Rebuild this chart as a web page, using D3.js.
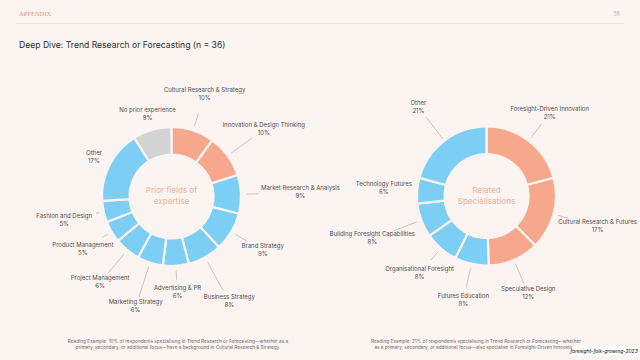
<!DOCTYPE html>
<html>
<head>
<meta charset="utf-8">
<script src="https://cdn.jsdelivr.net/npm/d3@7"></script>
<style>
  html, body { margin: 0; padding: 0; background: #fcf4f1; }
  svg { display: block; }
  text { font-family: Inter, "Noto Sans", sans-serif; }
</style>
</head>
<body>
<svg id="chart" width="640" height="360"></svg>
<script>
// ---------- DATA ----------
const priorCategories = [
  "Cultural Research & Strategy", "Innovation & Design Thinking", "Market Research & Analysis",
  "Brand Strategy", "Business Strategy", "Advertising & PR", "Marketing Strategy",
  "Project Management", "Product Management", "Fashion and Design", "Other", "No prior experience"
];
const priorValues = [10, 10, 9, 9, 8, 6, 6, 6, 5, 5, 17, 9];
const priorGroups = ["focus", "focus", "rest", "rest", "rest", "rest", "rest", "rest", "rest", "rest", "rest", "none"];

const relatedCategories = [
  "Foresight-Driven Innovation", "Cultural Research & Futures", "Speculative Design",
  "Futures Education", "Organisational Foresight", "Building Foresight Capabilities",
  "Technology Futures", "Other"
];
const relatedValues = [21, 17, 12, 8, 8, 8, 6, 21];
const relatedGroups = ["focus", "focus", "focus", "rest", "rest", "rest", "rest", "rest"];

const titleText = "Deep Dive: Trend Research or Forecasting (n = 36)";
const priorCenterLines = ["Prior fields of", "expertise"];
const relatedCenterLines = ["Related", "Specialisations"];
const priorNote = [
  "Reading Example: 10% of respondents specialising in Trend Research or Forecasting\u2014whether as a",
  "primary, secondary, or additional focus\u2014have a background in Cultural Research & Strategy."
];
const relatedNote = [
  "Reading Example: 21% of respondents specialising in Trend Research or Forecasting\u2014whether",
  "as a primary, secondary, or additional focus\u2014also specialise in Foresight-Driven Innovation."
];

// ---------- LAYOUT / STYLE ----------
const colors = { focus: "#f7a78c", rest: "#7dcef5", none: "#d3d3d3" };
const bg = "#fcf4f1";
// label distance from centre and leader line [start, end] radius per slice
const priorLayout = {
  labelR: [107, 114, 129, 106, 120, 96, 116, 112, 103, 110, 87, 86],
  leader: [[74, 87], [74, 100], [75, 87], [74, 88], [75, 107], [74, 84], [74, 106], [75, 100], [74, 80], [74, 77], null, null]
};
const relatedLayout = {
  labelR: [104, 115, 106, 107, 102, 122, 103, 112],
  leader: [[73, 91], [74, 85], [74, 96], [74, 93], [74, 85], [74, 99], null, [72, 99]]
};

const svg = d3.select("#chart");
svg.append("rect").attr("width", 640).attr("height", 360).attr("fill", bg);

// header
svg.append("text").attr("x", 19).attr("y", 16)
  .style("font-family", "'Liberation Serif', 'DejaVu Serif', serif")
  .style("font-size", "6.5px").attr("fill", "#e39a7f").text("APPENDIX");
svg.append("text").attr("x", 620).attr("y", 16).attr("text-anchor", "end")
  .style("font-size", "5.5px").attr("fill", "#c4b8b4").text("58");
svg.append("line").attr("x1", 16).attr("x2", 624).attr("y1", 23.5).attr("y2", 23.5)
  .attr("stroke", "#ecdcd6").attr("stroke-width", 0.8);

svg.append("text").attr("x", 19).attr("y", 48)
  .style("font-size", "8.6px").attr("fill", "#2f2f2f").text(titleText);

function donut(cx, cy, categories, values, groups, layout, centerLines) {
  const g = svg.append("g").attr("transform", `translate(${cx},${cy})`);
  const data = categories.map((c, i) => ({ name: c, value: values[i], group: groups[i], i }));
  const pie = d3.pie().sort(null).value(d => d.value);
  const arcs = pie(data);
  const arc = d3.arc().innerRadius(42).outerRadius(69.5);

  g.selectAll("path.slice").data(arcs).join("path")
    .attr("class", "slice")
    .attr("d", arc)
    .attr("fill", d => colors[d.data.group])
    .attr("stroke", bg).attr("stroke-width", 2.2);

  const mid = d => (d.startAngle + d.endAngle) / 2;
  const pt = (a, r) => [r * Math.sin(a), -r * Math.cos(a)];

  g.selectAll("line.leader").data(arcs.filter(d => layout.leader[d.data.i])).join("line")
    .attr("class", "leader")
    .attr("x1", d => pt(mid(d), layout.leader[d.data.i][0])[0])
    .attr("y1", d => pt(mid(d), layout.leader[d.data.i][0])[1])
    .attr("x2", d => pt(mid(d), layout.leader[d.data.i][1])[0])
    .attr("y2", d => pt(mid(d), layout.leader[d.data.i][1])[1])
    .attr("stroke", "#a8a4a2").attr("stroke-width", 0.6);

  const lbl = g.selectAll("g.lbl").data(arcs).join("g")
    .attr("class", "lbl")
    .attr("transform", d => {
      const p = pt(mid(d), layout.labelR[d.data.i]);
      return `translate(${p[0]},${p[1]})`;
    });
  lbl.append("text").attr("text-anchor", "middle").attr("y", -4)
    .attr("dominant-baseline", "middle")
    .style("font-size", "6px").attr("fill", "#505050").text(d => d.data.name);
  lbl.append("text").attr("text-anchor", "middle").attr("y", 4)
    .attr("dominant-baseline", "middle")
    .style("font-size", "6px").attr("fill", "#505050").text(d => d.data.value + "%");

  g.selectAll("text.center").data(centerLines).join("text")
    .attr("class", "center")
    .attr("text-anchor", "middle").attr("dominant-baseline", "middle")
    .attr("y", (d, i) => (i - (centerLines.length - 1) / 2) * 10.7)
    .style("font-size", "8px").style("font-weight", 500)
    .attr("fill", "#e9bba6").text(d => d);
}

donut(171.5, 196.5, priorCategories, priorValues, priorGroups, priorLayout, priorCenterLines);
donut(486.5, 196, relatedCategories, relatedValues, relatedGroups, relatedLayout, relatedCenterLines);

function note(cx, y, lines) {
  svg.append("g").selectAll("text").data(lines).join("text")
    .attr("x", cx).attr("y", (d, i) => y + i * 5.5)
    .attr("text-anchor", "middle")
    .style("font-size", "4.7px").attr("fill", "#6a6a6a").text(d => d);
}
note(178, 343, priorNote);
note(476, 343, relatedNote);

// source badge
const badge = svg.append("g").attr("transform", "translate(572,346)");
badge.append("rect").attr("width", 64).attr("height", 9.5).attr("fill", "#ffffff");
badge.append("text").attr("x", 32).attr("y", 6.6).attr("text-anchor", "middle")
  .style("font-size", "5px").style("font-style", "italic").attr("fill", "#111")
  .text("foresight-folk-growing-2023");
</script>
</body>
</html>
